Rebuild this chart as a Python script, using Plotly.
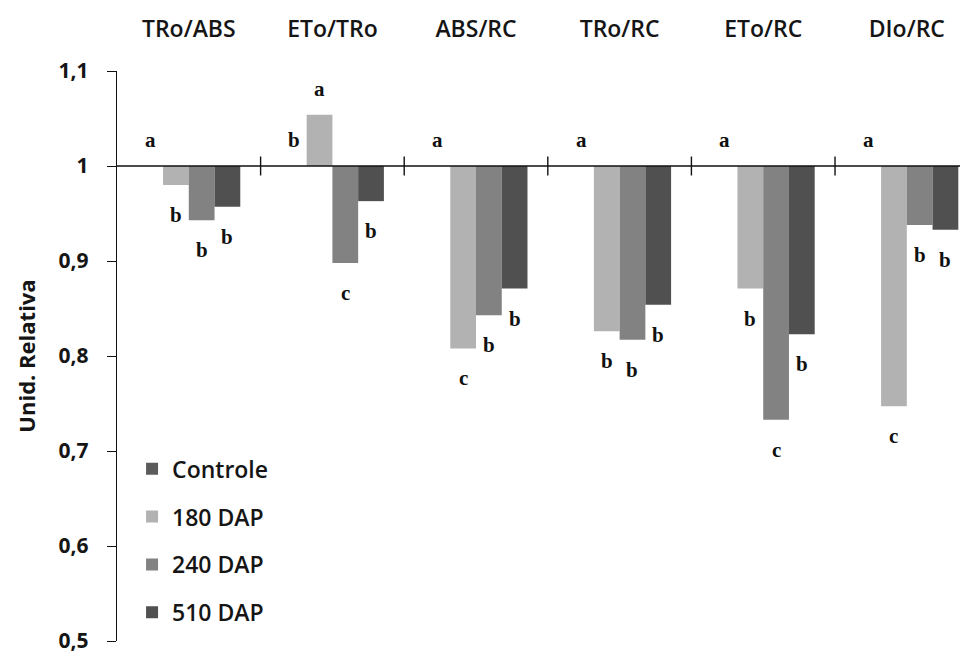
import plotly.graph_objects as go

categories = ["TRo/ABS", "ETo/TRo", "ABS/RC", "TRo/RC", "ETo/RC", "DIo/RC"]
series_names = ["Controle", "180 DAP", "240 DAP", "510 DAP"]
controle = [1.0, 1.0, 1.0, 1.0, 1.0, 1.0]
dap180 = [0.980, 1.054, 0.808, 0.826, 0.871, 0.747]
dap240 = [0.943, 0.898, 0.843, 0.817, 0.733, 0.938]
dap510 = [0.957, 0.963, 0.871, 0.854, 0.823, 0.933]
letters_controle = ["a", "b", "a", "a", "a", "a"]
letters_180 = ["b", "a", "c", "b", "b", "c"]
letters_240 = ["b", "c", "b", "b", "c", "b"]
letters_510 = ["b", "b", "b", "b", "b", "b"]
y_ticks = [0.5, 0.6, 0.7, 0.8, 0.9, 1.0, 1.1]

series = [controle, dap180, dap240, dap510]
letters = [letters_controle, letters_180, letters_240, letters_510]
colors = ["#5b5b5b", "#b2b2b2", "#828282", "#505050"]

BASE = 1.0
BARGAP = 0.283
bar_w = (1 - BARGAP) / len(series)
TXT = "#151515"
SANS = "Open Sans"

fig = go.Figure()
for i, (name, vals) in enumerate(zip(series_names, series)):
    fig.add_trace(go.Bar(
        x=categories, y=[v - BASE for v in vals], base=BASE, name=name,
        marker=dict(color=colors[i], line=dict(width=0)),
        legendgroup=name,
    ))

annotations = []
for i, (vals, labs) in enumerate(zip(series, letters)):
    off = (i - (len(series) - 1) / 2) * bar_w
    for j, (v, lab) in enumerate(zip(vals, labs)):
        annotations.append(dict(
            x=j + off, y=v, xref="x", yref="y", text=lab, showarrow=False,
            yshift=26 if v >= BASE else -30,
            font=dict(family="Liberation Serif", size=21, weight="bold", color="#111"),
        ))

shapes = [dict(type="line", xref="paper", yref="y", x0=0, x1=1, y0=BASE, y1=BASE,
               line=dict(color="#111", width=1.4))]
for j in range(len(categories) - 1):
    shapes.append(dict(type="line", xref="x", yref="y", x0=j + 0.5, x1=j + 0.5,
                       y0=BASE - 0.01, y1=BASE + 0.01, line=dict(color="#111", width=1.4)))

# page body has an 8px default margin, so the figure is sized to fit the window
fig.update_layout(
    width=960, height=643,
    margin=dict(l=109, r=0, t=63, b=10),
    paper_bgcolor="white", plot_bgcolor="white",
    barmode="group", bargap=BARGAP, bargroupgap=0,
    separators=",.",
    font=dict(family=SANS, color=TXT),
    showlegend=True,
    legend=dict(x=0.0177, y=0.34, xanchor="left", yanchor="top",
                bgcolor="rgba(0,0,0,0)", tracegroupgap=15,
                font=dict(size=23, family=SANS, weight=600, color=TXT),
                itemwidth=30),
    annotations=annotations,
    shapes=shapes,
    xaxis=dict(side="top", showline=False, showgrid=False, zeroline=False, ticks="",
               range=[-0.5, 5.426], ticklabelstandoff=28, automargin=False,
               tickfont=dict(size=23, family=SANS, weight=600, color=TXT)),
    yaxis=dict(range=[0.5, 1.1], tickvals=y_ticks, showline=True, linecolor="#111",
               linewidth=1.4, ticks="outside", ticklen=9, tickcolor="#111", tickwidth=1.4,
               showgrid=False, zeroline=False, automargin=False,
               ticklabeloverflow="allow", ticklabelstandoff=14,
               tickfont=dict(size=21, family=SANS, weight="bold", color=TXT)),
)
fig.update_yaxes(title=dict(text="Unid. Relativa", standoff=16,
                            font=dict(size=22, family=SANS, weight="bold", color=TXT)))

fig.write_html("out.html")
